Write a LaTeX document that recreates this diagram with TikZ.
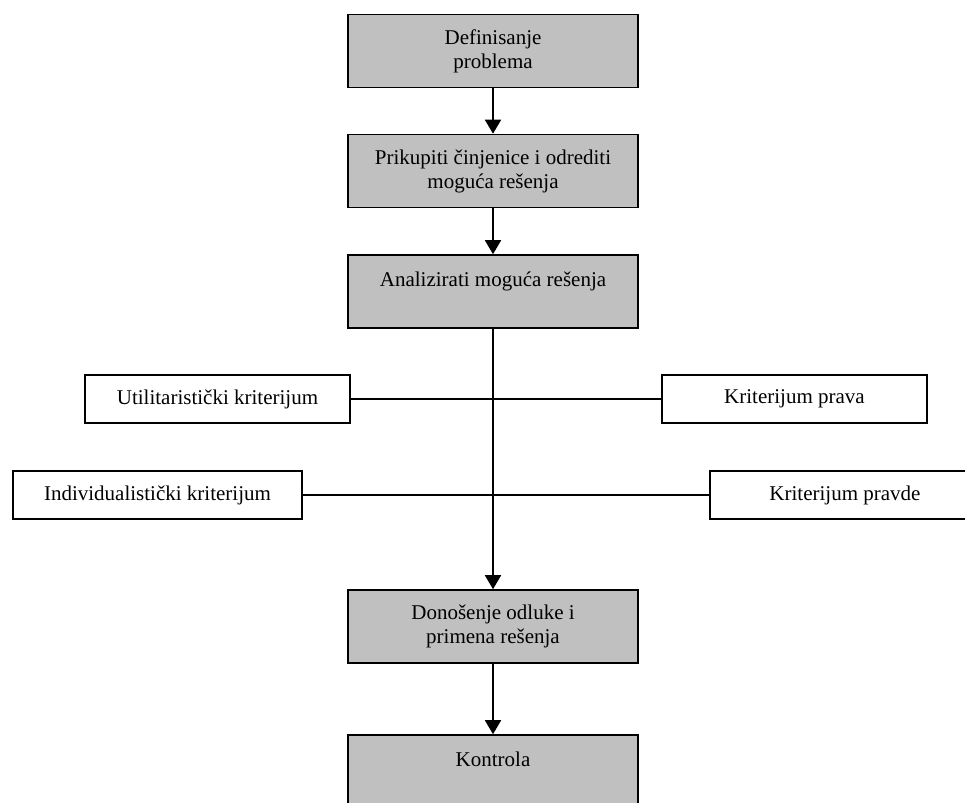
\documentclass[tikz,border=0pt]{standalone}
\usepackage{fontspec}
\setmainfont{Liberation Serif}
\usetikzlibrary{arrows.meta}
\definecolor{stepgray}{HTML}{C0C0C0}
\begin{document}
\begin{tikzpicture}[x=1pt,y=-1pt,
  every node/.style={font=\fontsize{21}{24}\selectfont, inner sep=0pt, align=center},
  stepbox/.style={draw, line width=1.6pt, fill=stepgray, minimum width=290pt, minimum height=73pt},
  critbox/.style={draw, line width=1.4pt, fill=white, minimum height=48pt},
  flow/.style={line width=1.8pt, -{Triangle[width=16pt,length=14pt]}},
  link/.style={line width=1.4pt}]
\useasboundingbox (0,0) rectangle (965,802);
\clip (0,0) rectangle (965,802);

% main sequence of steps
\node[stepbox] (def) at (493,51) {Definisanje\\problema};
\node[stepbox] (cin) at (493,171) {Prikupiti činjenice i odrediti\\moguća rešenja};
\node[stepbox] (ana) at (493,291.5) {Analizirati moguća rešenja\\\mbox{}};
\node[stepbox] (odl) at (493,626.5) {Donošenje odluke i\\primena rešenja};
\node[stepbox] (kon) at (493,771.5) {Kontrola\\\mbox{}};

% criteria on both sides of the analysis line
\node[critbox, minimum width=265pt] (util) at (217.5,399) {Utilitaristički kriterijum};
\node[critbox, minimum width=265pt] (prava) at (794.5,399) {Kriterijum prava};
\node[critbox, minimum width=289pt] (indiv) at (157.5,495) {Individualistički kriterijum};
\node[critbox, minimum width=270pt] (pravde) at (845,495) {Kriterijum pravde};

% criteria links across the central line
\draw[link] (util.east) -- (prava.west);
\draw[link] (indiv.east) -- (pravde.west);

% flow arrows
\draw[flow] (def) -- (cin);
\draw[flow] (cin) -- (ana);
\draw[flow] (ana) -- (odl);
\draw[flow] (odl) -- (kon);
\end{tikzpicture}
\end{document}
